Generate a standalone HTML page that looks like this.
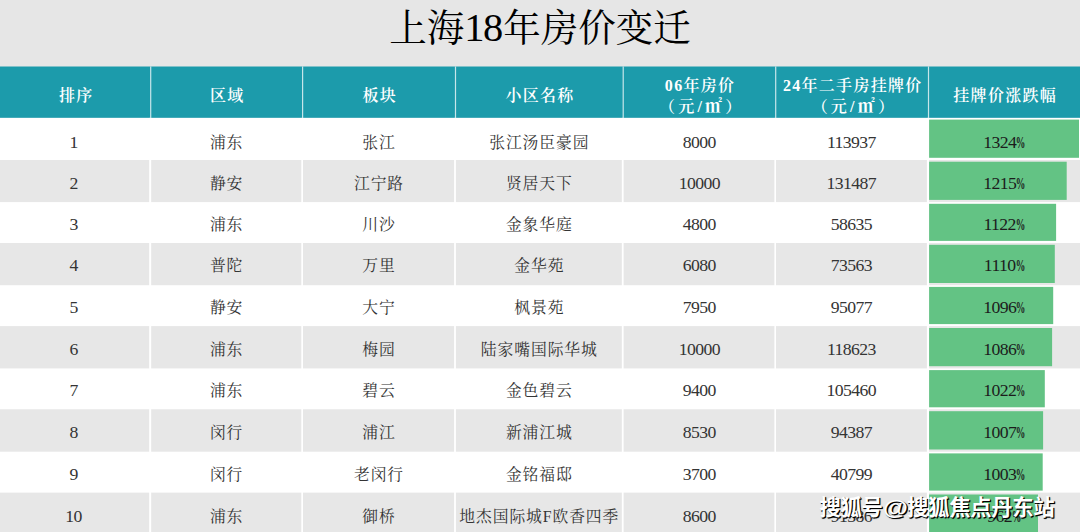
<!DOCTYPE html>
<html lang="zh-CN"><head><meta charset="utf-8"><title>上海18年房价变迁</title>
<style>
html,body{margin:0;padding:0;}
body{width:1080px;height:532px;overflow:hidden;position:relative;background:#e6e6e6;font-family:"Liberation Serif","Noto Serif CJK SC",serif;color:#343434;}
svg.bg{position:absolute;left:0;top:0;}
.title{position:absolute;left:0;top:0;width:1080px;height:66px;text-align:center;font-size:37.5px;line-height:66px;color:#000;font-weight:400;}
.title span{position:relative;top:-4px;}
.title em{font-style:normal;font-size:40.5px;letter-spacing:-1.5px;margin-right:1.5px;line-height:0;}
.hc{position:absolute;top:66px;height:52px;display:flex;align-items:center;justify-content:center;text-align:center;white-space:nowrap;color:#fff;font-weight:600;font-size:16px;line-height:20.4px;letter-spacing:1.3px;}
.hc span{position:relative;top:4.5px;left:1.2px;}
.hc u{text-decoration:none;font-weight:700;font-size:17px;line-height:0;}
.hc i{font-style:normal;letter-spacing:3.2px;margin-right:-3.2px;}
.c{position:absolute;display:flex;align-items:center;justify-content:center;font-size:15.8px;letter-spacing:0.9px;text-indent:0.9px;white-space:nowrap;}
.c span{position:relative;top:0px;}
.c.n{text-indent:-0.6px;}
.c.n span{font-size:17.7px;letter-spacing:-0.6px;top:0px;}
.c.p span{color:#1c1c1c;}
.pc{display:inline-block;width:8px;transform:scaleX(.54);font-weight:700;transform-origin:0 50%;}
.wm b{display:inline-block;font-weight:700;width:24.4px;transform:scaleX(1.2);transform-origin:0 50%;}
.wm{position:absolute;left:819.5px;top:492.5px;font-family:"Liberation Sans","Noto Sans CJK SC",sans-serif;font-weight:700;font-size:21.3px;letter-spacing:-0.25px;color:#fff;text-shadow:1px 1px 1px #000,1px 1px 0 #000;white-space:nowrap;line-height:30px;}
</style></head><body>
<svg class="bg" width="1080" height="532" viewBox="0 0 1080 532">
<rect x="0" y="0" width="1080" height="532" fill="#e6e6e6"/>
<rect x="0" y="66.5" width="1080" height="51.4" fill="#1c9bab"/>
<rect x="0" y="117.9" width="1080" height="42.1" fill="#ffffff"/>
<rect x="0" y="160" width="1080" height="42.1" fill="#e7e7e7"/>
<rect x="0" y="202.1" width="1080" height="41.0" fill="#ffffff"/>
<rect x="0" y="243.1" width="1080" height="42.1" fill="#e7e7e7"/>
<rect x="0" y="285.2" width="1080" height="41.1" fill="#ffffff"/>
<rect x="0" y="326.3" width="1080" height="42.1" fill="#e7e7e7"/>
<rect x="0" y="368.4" width="1080" height="41.1" fill="#ffffff"/>
<rect x="0" y="409.5" width="1080" height="42.2" fill="#e7e7e7"/>
<rect x="0" y="451.7" width="1080" height="41.1" fill="#ffffff"/>
<rect x="0" y="492.8" width="1080" height="41.7" fill="#e7e7e7"/>
<rect x="149.2" y="117.9" width="2.0" height="420" fill="#ffffff"/>
<rect x="150.1" y="66.5" width="1.2" height="51.4" fill="#ffffff" fill-opacity="0.75"/>
<rect x="301.3" y="117.9" width="1.7" height="420" fill="#ffffff"/>
<rect x="302.0" y="66.5" width="1.2" height="51.4" fill="#ffffff" fill-opacity="0.75"/>
<rect x="454.1" y="117.9" width="1.8" height="420" fill="#ffffff"/>
<rect x="454.9" y="66.5" width="1.2" height="51.4" fill="#ffffff" fill-opacity="0.75"/>
<rect x="621.8" y="117.9" width="1.8" height="420" fill="#ffffff"/>
<rect x="622.6" y="66.5" width="1.2" height="51.4" fill="#ffffff" fill-opacity="0.75"/>
<rect x="774.4" y="117.9" width="1.6" height="420" fill="#ffffff"/>
<rect x="775.1" y="66.5" width="1.2" height="51.4" fill="#ffffff" fill-opacity="0.75"/>
<rect x="926.9" y="117.9" width="2.2" height="420" fill="#ffffff"/>
<rect x="927.9" y="66.5" width="1.2" height="51.4" fill="#ffffff" fill-opacity="0.75"/>
<rect x="929.1" y="119.6" width="149.9" height="38.2" fill="#63c384"/>
<rect x="929.1" y="161.7" width="137.6" height="38.2" fill="#63c384"/>
<rect x="929.1" y="203.8" width="127.0" height="37.1" fill="#63c384"/>
<rect x="929.1" y="244.8" width="125.7" height="38.2" fill="#63c384"/>
<rect x="929.1" y="286.9" width="124.1" height="37.2" fill="#63c384"/>
<rect x="929.1" y="328.0" width="123.0" height="38.2" fill="#63c384"/>
<rect x="929.1" y="370.1" width="115.7" height="37.2" fill="#63c384"/>
<rect x="929.1" y="411.2" width="114.0" height="38.3" fill="#63c384"/>
<rect x="929.1" y="453.4" width="113.6" height="37.2" fill="#63c384"/>
<rect x="929.1" y="494.5" width="108.9" height="37.8" fill="#63c384"/>
</svg>
<div class="title"><span>上海<em>18</em>年房价变迁</span></div>
<div class="hc" style="left:0px;width:150.2px"><span>排序</span></div>
<div class="hc" style="left:150.2px;width:151.9px"><span>区域</span></div>
<div class="hc" style="left:302.1px;width:152.9px"><span>板块</span></div>
<div class="hc" style="left:455.0px;width:167.7px"><span>小区名称</span></div>
<div class="hc" style="left:622.7px;width:152.5px"><span>06年房价<br><i>（元/<u>㎡</u>）</i></span></div>
<div class="hc" style="left:775.2px;width:152.8px"><span>24年二手房挂牌价<br><i>（元/<u>㎡</u>）</i></span></div>
<div class="hc" style="left:928.0px;width:152.0px"><span>挂牌价涨跌幅</span></div>
<div class="c n" style="left:-1.3px;width:150.2px;top:122.1px;height:40.0px"><span>1</span></div>
<div class="c" style="left:150.2px;width:151.9px;top:121.1px;height:40.0px"><span>浦东</span></div>
<div class="c" style="left:302.1px;width:152.9px;top:121.1px;height:40.0px"><span>张江</span></div>
<div class="c" style="left:455.0px;width:167.7px;top:121.1px;height:40.0px"><span>张江汤臣豪园</span></div>
<div class="c n" style="left:623.4px;width:152.5px;top:122.1px;height:40.0px"><span>8000</span></div>
<div class="c n" style="left:775.2px;width:152.8px;top:122.1px;height:40.0px"><span>113937</span></div>
<div class="c n p" style="left:928.0px;width:152.0px;top:122.1px;height:40.0px"><span>1324<b class="pc">%</b></span></div>
<div class="c n" style="left:-1.3px;width:150.2px;top:163.6px;height:40.0px"><span>2</span></div>
<div class="c" style="left:150.2px;width:151.9px;top:162.6px;height:40.0px"><span>静安</span></div>
<div class="c" style="left:302.1px;width:152.9px;top:162.6px;height:40.0px"><span>江宁路</span></div>
<div class="c" style="left:455.0px;width:167.7px;top:162.6px;height:40.0px"><span>贤居天下</span></div>
<div class="c n" style="left:623.4px;width:152.5px;top:163.6px;height:40.0px"><span>10000</span></div>
<div class="c n" style="left:775.2px;width:152.8px;top:163.6px;height:40.0px"><span>131487</span></div>
<div class="c n p" style="left:928.0px;width:152.0px;top:163.6px;height:40.0px"><span>1215<b class="pc">%</b></span></div>
<div class="c n" style="left:-1.3px;width:150.2px;top:204.7px;height:40.0px"><span>3</span></div>
<div class="c" style="left:150.2px;width:151.9px;top:203.7px;height:40.0px"><span>浦东</span></div>
<div class="c" style="left:302.1px;width:152.9px;top:203.7px;height:40.0px"><span>川沙</span></div>
<div class="c" style="left:455.0px;width:167.7px;top:203.7px;height:40.0px"><span>金象华庭</span></div>
<div class="c n" style="left:623.4px;width:152.5px;top:204.7px;height:40.0px"><span>4800</span></div>
<div class="c n" style="left:775.2px;width:152.8px;top:204.7px;height:40.0px"><span>58635</span></div>
<div class="c n p" style="left:928.0px;width:152.0px;top:204.7px;height:40.0px"><span>1122<b class="pc">%</b></span></div>
<div class="c n" style="left:-1.3px;width:150.2px;top:245.7px;height:40.0px"><span>4</span></div>
<div class="c" style="left:150.2px;width:151.9px;top:244.7px;height:40.0px"><span>普陀</span></div>
<div class="c" style="left:302.1px;width:152.9px;top:244.7px;height:40.0px"><span>万里</span></div>
<div class="c" style="left:455.0px;width:167.7px;top:244.7px;height:40.0px"><span>金华苑</span></div>
<div class="c n" style="left:623.4px;width:152.5px;top:245.7px;height:40.0px"><span>6080</span></div>
<div class="c n" style="left:775.2px;width:152.8px;top:245.7px;height:40.0px"><span>73563</span></div>
<div class="c n p" style="left:928.0px;width:152.0px;top:245.7px;height:40.0px"><span>1110<b class="pc">%</b></span></div>
<div class="c n" style="left:-1.3px;width:150.2px;top:287.1px;height:40.0px"><span>5</span></div>
<div class="c" style="left:150.2px;width:151.9px;top:286.1px;height:40.0px"><span>静安</span></div>
<div class="c" style="left:302.1px;width:152.9px;top:286.1px;height:40.0px"><span>大宁</span></div>
<div class="c" style="left:455.0px;width:167.7px;top:286.1px;height:40.0px"><span>枫景苑</span></div>
<div class="c n" style="left:623.4px;width:152.5px;top:287.1px;height:40.0px"><span>7950</span></div>
<div class="c n" style="left:775.2px;width:152.8px;top:287.1px;height:40.0px"><span>95077</span></div>
<div class="c n p" style="left:928.0px;width:152.0px;top:287.1px;height:40.0px"><span>1096<b class="pc">%</b></span></div>
<div class="c n" style="left:-1.3px;width:150.2px;top:329.4px;height:40.0px"><span>6</span></div>
<div class="c" style="left:150.2px;width:151.9px;top:328.4px;height:40.0px"><span>浦东</span></div>
<div class="c" style="left:302.1px;width:152.9px;top:328.4px;height:40.0px"><span>梅园</span></div>
<div class="c" style="left:455.0px;width:167.7px;top:328.4px;height:40.0px"><span>陆家嘴国际华城</span></div>
<div class="c n" style="left:623.4px;width:152.5px;top:329.4px;height:40.0px"><span>10000</span></div>
<div class="c n" style="left:775.2px;width:152.8px;top:329.4px;height:40.0px"><span>118623</span></div>
<div class="c n p" style="left:928.0px;width:152.0px;top:329.4px;height:40.0px"><span>1086<b class="pc">%</b></span></div>
<div class="c n" style="left:-1.3px;width:150.2px;top:370.6px;height:40.0px"><span>7</span></div>
<div class="c" style="left:150.2px;width:151.9px;top:369.6px;height:40.0px"><span>浦东</span></div>
<div class="c" style="left:302.1px;width:152.9px;top:369.6px;height:40.0px"><span>碧云</span></div>
<div class="c" style="left:455.0px;width:167.7px;top:369.6px;height:40.0px"><span>金色碧云</span></div>
<div class="c n" style="left:623.4px;width:152.5px;top:370.6px;height:40.0px"><span>9400</span></div>
<div class="c n" style="left:775.2px;width:152.8px;top:370.6px;height:40.0px"><span>105460</span></div>
<div class="c n p" style="left:928.0px;width:152.0px;top:370.6px;height:40.0px"><span>1022<b class="pc">%</b></span></div>
<div class="c n" style="left:-1.3px;width:150.2px;top:412.9px;height:40.0px"><span>8</span></div>
<div class="c" style="left:150.2px;width:151.9px;top:411.9px;height:40.0px"><span>闵行</span></div>
<div class="c" style="left:302.1px;width:152.9px;top:411.9px;height:40.0px"><span>浦江</span></div>
<div class="c" style="left:455.0px;width:167.7px;top:411.9px;height:40.0px"><span>新浦江城</span></div>
<div class="c n" style="left:623.4px;width:152.5px;top:412.9px;height:40.0px"><span>8530</span></div>
<div class="c n" style="left:775.2px;width:152.8px;top:412.9px;height:40.0px"><span>94387</span></div>
<div class="c n p" style="left:928.0px;width:152.0px;top:412.9px;height:40.0px"><span>1007<b class="pc">%</b></span></div>
<div class="c n" style="left:-1.3px;width:150.2px;top:454.7px;height:40.0px"><span>9</span></div>
<div class="c" style="left:150.2px;width:151.9px;top:453.7px;height:40.0px"><span>闵行</span></div>
<div class="c" style="left:302.1px;width:152.9px;top:453.7px;height:40.0px"><span>老闵行</span></div>
<div class="c" style="left:455.0px;width:167.7px;top:453.7px;height:40.0px"><span>金铭福邸</span></div>
<div class="c n" style="left:623.4px;width:152.5px;top:454.7px;height:40.0px"><span>3700</span></div>
<div class="c n" style="left:775.2px;width:152.8px;top:454.7px;height:40.0px"><span>40799</span></div>
<div class="c n p" style="left:928.0px;width:152.0px;top:454.7px;height:40.0px"><span>1003<b class="pc">%</b></span></div>
<div class="c n" style="left:-1.3px;width:150.2px;top:496.0px;height:40.0px"><span>10</span></div>
<div class="c" style="left:150.2px;width:151.9px;top:495.0px;height:40.0px"><span>浦东</span></div>
<div class="c" style="left:302.1px;width:152.9px;top:495.0px;height:40.0px"><span>御桥</span></div>
<div class="c" style="left:455.0px;width:167.7px;top:495.0px;height:40.0px"><span>地杰国际城F欧香四季</span></div>
<div class="c n" style="left:623.4px;width:152.5px;top:496.0px;height:40.0px"><span>8600</span></div>
<div class="c n" style="left:775.2px;width:152.8px;top:496.0px;height:40.0px"><span>91386</span></div>
<div class="c n p" style="left:928.0px;width:152.0px;top:496.0px;height:40.0px"><span>962<b class="pc">%</b></span></div>
<div class="wm">搜狐号<b>@</b>搜狐焦点丹东站</div>
</body></html>
